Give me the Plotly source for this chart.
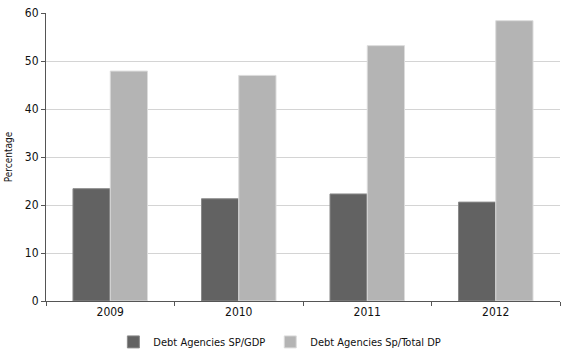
import plotly.graph_objects as go

years = ["2009", "2010", "2011", "2012"]
sp_gdp = [23.4, 21.3, 22.3, 20.6]
sp_total_dp = [47.9, 47.0, 53.2, 58.4]
series_names = ["Debt Agencies SP/GDP", "Debt Agencies Sp/Total DP"]

FONT = "DejaVu Sans Condensed, sans-serif"

fig = go.Figure()
fig.add_trace(go.Bar(x=years, y=sp_gdp, name=series_names[0],
                     marker=dict(color="#626262", line=dict(color="#8a8a8a", width=1))))
fig.add_trace(go.Bar(x=years, y=sp_total_dp, name=series_names[1],
                     marker=dict(color="#b4b4b4", line=dict(color="#dcdcdc", width=1))))

fig.update_layout(
    width=566, height=352,
    margin=dict(l=46, r=6, t=13, b=51, autoexpand=False),
    paper_bgcolor="white", plot_bgcolor="white",
    barmode="group", bargap=0.42, bargroupgap=0,
    font=dict(family=FONT, size=11, color="#111"),
    showlegend=True,
    legend=dict(orientation="h", x=0.455, xanchor="center", y=-0.142, yanchor="middle",
                font=dict(size=11), itemwidth=30, traceorder="normal"),
)
fig.update_xaxes(
    showline=True, linecolor="#555", linewidth=1, automargin=False,
    ticks="outside", tickson="boundaries", ticklen=4, tickcolor="#555",
    showgrid=False, tickfont=dict(size=12),
)
fig.update_yaxes(
    range=[0, 60], dtick=10, automargin=False,
    showline=True, linecolor="#555", linewidth=1,
    ticks="outside", ticklen=4, tickcolor="#555",
    showgrid=True, gridcolor="#d4d4d4", gridwidth=1,
    zeroline=False, tickfont=dict(size=12),
    title=dict(text="Percentage", font=dict(size=10), standoff=10),
)
fig.write_html("out.html", config={"displayModeBar": False},
               post_script="document.body.style.margin='0';")
